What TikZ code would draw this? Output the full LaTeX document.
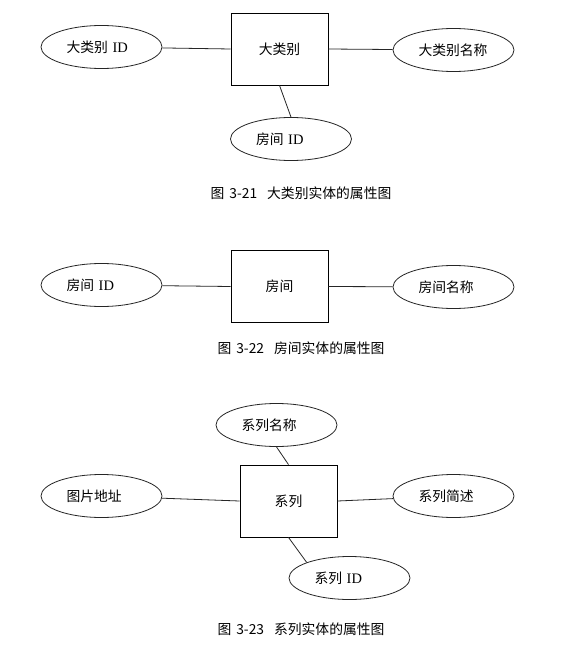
\documentclass[tikz,border=0pt]{standalone}
\usepackage{fontspec}
\setmainfont{Liberation Serif}
\newfontfamily\cjk{Noto Sans CJK SC}
\usetikzlibrary{shapes.geometric}
\newcommand{\idtext}{{\rmfamily\fontsize{14.5}{16}\selectfont ID}}

\begin{document}
\begin{tikzpicture}[x=1pt,y=-1pt]
    \def\lx{101.5}
    \def\rx{453.5}
    \def\cx{301}

    \tikzstyle{entity}=[draw=black,line width=0.8pt,minimum width=97pt,minimum height=72pt,inner sep=0pt,font=\cjk\fontsize{13.8}{16}\selectfont]
    \tikzstyle{attr}=[draw=black!85,ellipse,line width=0.8pt,minimum width=121pt,minimum height=43pt,inner sep=0pt,text width=70pt,align=left,font=\cjk\fontsize{13.8}{16}\selectfont]
    \tikzstyle{caption}=[inner sep=0pt,font=\cjk\fontsize{13.8}{16}\selectfont]

    \fill[white] (0,0) rectangle (587,655);
    \useasboundingbox (0,0) rectangle (587,655);

    % figure 3-21
    \node[entity] (box1) at (279.5,49) {大类别};
    \node[attr]   (a11)  at (\lx,47)   {大类别 \idtext};
    \node[attr]   (a12)  at (\rx,50)   {大类别名称};
    \node[attr]   (a13)  at (291,139)  {房间 \idtext};
    \node[caption] (cap1) at (\cx,193) {图\hspace{5pt}3-21\hspace{10pt}大类别实体的属性图};

    % figure 3-22
    \node[entity] (box2) at (279.5,286.5) {房间};
    \node[attr]   (a21)  at (\lx,285)     {房间 \idtext};
    \node[attr]   (a22)  at (\rx,287)     {房间名称};
    \node[caption] (cap2) at (\cx,348) {图\hspace{5pt}3-22\hspace{10pt}房间实体的属性图};

    % figure 3-23
    \node[entity] (box3) at (288.5,501) {系列};
    \node[attr]   (a31)  at (276.5,425) {系列名称};
    \node[attr]   (a32)  at (\lx,496)   {图片地址};
    \node[attr]   (a33)  at (\rx,496)   {系列简述};
    \node[attr]   (a34)  at (349.5,578) {系列 \idtext};
    \node[caption] (cap3) at (\cx,629) {图\hspace{5pt}3-23\hspace{10pt}系列实体的属性图};

    \tikzstyle{link} = [draw=black!85, line width=0.8pt]

    \draw [link] (box1.west) -- (a11);
    \draw [link] (box1.east) -- (a12);
    \draw [link] (box1.south) -- (a13.north);

    \draw [link] (box2.west) -- (a21);
    \draw [link] (box2.east) -- (a22);

    \draw [link] (box3.north) -- (a31.south);
    \draw [link] (box3.west) -- (a32);
    \draw [link] (box3.east) -- (a33);
    \draw [link] (box3.south) -- (a34.160);

\end{tikzpicture}
\end{document}
